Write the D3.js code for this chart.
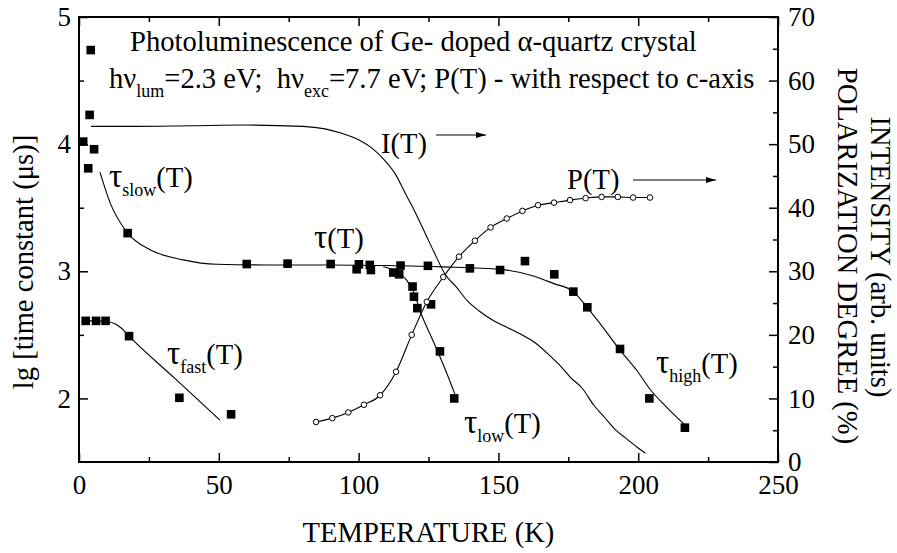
<!DOCTYPE html>
<html>
<head>
<meta charset="utf-8">
<script src="https://cdn.jsdelivr.net/npm/d3@7"></script>
<style>
  body { margin: 0; background: #fff; }
  svg { display: block; }
  text { white-space: pre; font-family: "Liberation Serif", "Times New Roman", Times, serif; }
</style>
</head>
<body>
<svg id="chart" width="897" height="553"></svg>
<script>
// axis ticks
const tempTicks = [0, 50, 100, 150, 200, 250];
const tempMinor = [25, 75, 125, 175, 225];
const lgTicks = [2, 3, 4, 5];
const lgMinor = [2.5, 3.5, 4.5];
const rightTicks = [0, 10, 20, 30, 40, 50, 60, 70];
const rightMinor = [5, 15, 25, 35, 45, 55, 65];

// measured lifetimes (filled squares), lg of microseconds
const squareT  = [1.5, 3.3, 4.2, 3.8, 5.4, 17.4,
                  2.4, 6.1, 9.5, 17.9, 35.9, 54.4,
                  60, 74.6, 90, 100.1, 99.3, 104, 104.4, 112.4, 114.5, 115, 124.8,
                  119.3, 119.8, 121, 125.9, 129.1, 134.2,
                  139.8, 150.6, 159.5, 170, 176.8, 181.8, 193.5, 204, 216.7];
const squareLg = [4.02, 3.81, 4.74, 4.23, 3.96, 3.30,
                  2.61, 2.61, 2.61, 2.49, 2.005, 1.875,
                  3.057, 3.06, 3.057, 3.055, 3.016, 3.05, 3.01, 2.99, 2.976, 3.045, 3.043,
                  2.88, 2.80, 2.71, 2.74, 2.37, 2.00,
                  3.023, 3.01, 3.08, 2.976, 2.84, 2.717, 2.389, 2.00, 1.77];

// fitted curves
const slowFitT  = [7.5, 11.1, 17.4, 25.4, 37.3, 49.2, 67, 90, 110, 130, 150.6, 162.5, 169.6, 176.8, 181.6, 186.3, 193.5, 199.5, 204.3, 210.2, 217.3];
const slowFitLg = [3.78, 3.54, 3.30, 3.17, 3.09, 3.055, 3.05, 3.05, 3.045, 3.035, 3.015, 2.963, 2.905, 2.84, 2.72, 2.59, 2.38, 2.22, 2.07, 1.93, 1.78];
const lowFitT   = [108.8, 113.6, 117.2, 119.6, 122.3, 126.7, 131.5, 134.5];
const lowFitLg  = [3.035, 2.997, 2.93, 2.84, 2.67, 2.45, 2.20, 2.03];
const fastFitT  = [2.4, 6, 10, 13, 15.3, 17.9, 34, 50.4];
const fastFitLg = [2.61, 2.61, 2.605, 2.585, 2.55, 2.49, 2.163, 1.83];

// intensity I(T), arb. units (right axis)
const intensityT = [4.3, 20, 40, 60, 80, 88, 94, 100, 105, 109, 113, 117, 120, 124, 127, 131, 135, 139, 143, 148, 153, 158, 163, 168, 172, 176, 180, 184, 188, 192, 196, 200, 202.5];
const intensityV = [52.8, 52.8, 52.9, 53.0, 52.8, 52.4, 51.7, 50.7, 49.3, 47.6, 45.4, 42.0, 39.5, 35.8, 33.0, 29.5, 27.5, 25.3, 23.8, 22.3, 21.2, 20.1, 18.8, 16.9, 15.2, 13.2, 11.6, 9.0, 7.0, 5.0, 3.6, 2.2, 1.4];

// polarization degree P(T), % (open circles, right axis)
const polT = [84.8, 90.6, 96.3, 101.9, 107.7, 113.4, 119, 124.4, 130.3, 135.9, 141.6, 147.2, 153, 158.6, 164.2, 169.9, 175.6, 181.2, 186.9, 192.7, 198.2, 204.2];
const polV = [6.3, 6.9, 7.8, 9.0, 10.5, 14.2, 20.0, 25.2, 29.1, 32.3, 34.8, 36.9, 38.3, 39.5, 40.4, 40.8, 41.2, 41.5, 41.7, 41.7, 41.6, 41.6];

const zip = (a, b) => a.map((v, i) => [v, b[i]]);

const svg = d3.select("#chart");
const margin = {top: 17, right: 119, bottom: 91, left: 79};
const width = +svg.attr("width") - margin.left - margin.right;
const height = +svg.attr("height") - margin.top - margin.bottom;
const fs = 27;      // tick labels
const fsT = 28.6;   // annotations and titles
const serif = "Liberation Serif, Times New Roman, serif";

const x = d3.scaleLinear().domain([0, 250]).range([0, width]);
const yL = d3.scaleLinear().domain([1.5, 5]).range([height, 0]);
const yR = d3.scaleLinear().domain([0, 70]).range([height, 0]);

const g = svg.append("g").attr("transform", `translate(${margin.left},${margin.top})`);

function styleAxis(sel) {
  sel.select(".domain").remove();
  sel.attr("font-size", fs).attr("font-family", serif);
  sel.selectAll("line").attr("stroke-width", 1.5);
  sel.selectAll("text").attr("fill", "#000").attr("font-family", serif);
}

// bottom + top
g.append("g").attr("transform", `translate(0,${height})`)
  .call(d3.axisBottom(x).tickValues(tempTicks).tickSize(-9).tickPadding(13).tickFormat(d3.format("d")))
  .call(styleAxis);
g.append("g").attr("transform", `translate(0,${height})`)
  .call(d3.axisBottom(x).tickValues(tempMinor).tickSize(-5).tickFormat(""))
  .call(styleAxis);
g.append("g")
  .call(d3.axisTop(x).tickValues(tempTicks).tickSize(-9).tickFormat(""))
  .call(styleAxis);
g.append("g")
  .call(d3.axisTop(x).tickValues(tempMinor).tickSize(-5).tickFormat(""))
  .call(styleAxis);

// left
g.append("g")
  .call(d3.axisLeft(yL).tickValues(lgTicks).tickSize(-9).tickPadding(8).tickFormat(d3.format("d")))
  .call(styleAxis);
g.append("g")
  .call(d3.axisLeft(yL).tickValues(lgMinor).tickSize(-5).tickFormat(""))
  .call(styleAxis);

// right
g.append("g").attr("transform", `translate(${width},0)`)
  .call(d3.axisRight(yR).tickValues(rightTicks).tickSize(-9).tickPadding(10).tickFormat(d3.format("d")))
  .call(styleAxis);
g.append("g").attr("transform", `translate(${width},0)`)
  .call(d3.axisRight(yR).tickValues(rightMinor).tickSize(-5).tickFormat(""))
  .call(styleAxis);

g.append("rect")
  .attr("width", width).attr("height", height)
  .attr("fill", "none").attr("stroke", "#000").attr("stroke-width", 2);

// curves
const lineL = d3.line().x(d => x(d[0])).y(d => yL(d[1])).curve(d3.curveMonotoneX);
const lineR = d3.line().x(d => x(d[0])).y(d => yR(d[1])).curve(d3.curveMonotoneX);

[zip(slowFitT, slowFitLg), zip(lowFitT, lowFitLg), zip(fastFitT, fastFitLg)].forEach(pts => {
  g.append("path").attr("d", lineL(pts)).attr("fill", "none").attr("stroke", "#000").attr("stroke-width", 1.1);
});
g.append("path").attr("d", lineR(zip(intensityT, intensityV)))
  .attr("fill", "none").attr("stroke", "#000").attr("stroke-width", 1.1);
g.append("path").attr("d", lineR(zip(polT, polV)))
  .attr("fill", "none").attr("stroke", "#000").attr("stroke-width", 1.1);

// markers
const sq = 8.6;
g.selectAll(".sq").data(zip(squareT, squareLg)).enter().append("rect")
  .attr("class", "sq")
  .attr("x", d => x(d[0]) - sq / 2).attr("y", d => yL(d[1]) - sq / 2)
  .attr("width", sq).attr("height", sq).attr("fill", "#000");
g.selectAll(".pc").data(zip(polT, polV)).enter().append("circle")
  .attr("class", "pc")
  .attr("cx", d => x(d[0])).attr("cy", d => yR(d[1])).attr("r", 2.8)
  .attr("fill", "#fff").attr("stroke", "#000").attr("stroke-width", 1);

// text with subscripts: strings are normal, {sub: ".."} lowered, {big: ".."} enlarged glyph
function label(xp, yp, parts) {
  const t = svg.append("text").attr("x", xp).attr("y", yp)
    .attr("font-size", fsT).attr("font-family", serif);
  let shifted = false;
  parts.forEach(p => {
    if (typeof p === "string") {
      t.append("tspan").attr("dy", shifted ? -9 : 0).text(p);
      shifted = false;
    } else if (p.big) {
      t.append("tspan").attr("font-size", 33).text(p.big);
    } else {
      t.append("tspan").attr("font-size", 18).attr("dy", 9).text(p.sub);
      shifted = true;
    }
  });
  return t;
}

label(130, 51, ["Photoluminescence of Ge- doped \u03b1-quartz crystal"]);
label(109, 88, ["h\u03bd", {sub: "lum"}, "=2.3 eV;  h\u03bd", {sub: "exc"}, "=7.7 eV; P(T) - with respect to c-axis"]);

label(109, 187, [{big: "\u03c4"}, {sub: "slow"}, "(T)"]);
label(314, 248, [{big: "\u03c4"}, "(T)"]);
label(167, 364, [{big: "\u03c4"}, {sub: "fast"}, "(T)"]);
label(464, 433, [{big: "\u03c4"}, {sub: "low"}, "(T)"]);
label(656, 373, [{big: "\u03c4"}, {sub: "high"}, "(T)"]);
label(381, 153, ["I(T)"]);
label(567, 189, ["P(T)"]);

// arrows
const defs = svg.append("defs");
defs.append("marker").attr("id", "arr").attr("viewBox", "0 0 10 6")
  .attr("refX", 10).attr("refY", 3).attr("markerWidth", 12).attr("markerHeight", 6)
  .attr("markerUnits", "userSpaceOnUse").attr("orient", "auto")
  .append("path").attr("d", "M0,0L10,3L0,6Z").attr("fill", "#000");
svg.append("line").attr("x1", 436).attr("x2", 486).attr("y1", 135).attr("y2", 135)
  .attr("stroke", "#000").attr("stroke-width", 1.1).attr("marker-end", "url(#arr)");
svg.append("line").attr("x1", 633).attr("x2", 716).attr("y1", 180).attr("y2", 180)
  .attr("stroke", "#000").attr("stroke-width", 1.1).attr("marker-end", "url(#arr)");

// axis titles
svg.append("text").attr("x", margin.left + width / 2).attr("y", 542)
  .attr("text-anchor", "middle").attr("font-size", fsT).attr("font-family", serif).text("TEMPERATURE (K)");
svg.append("text").attr("transform", "translate(33,262) rotate(-90)")
  .attr("text-anchor", "middle").attr("font-size", fsT).attr("font-family", serif).text("lg [time constant (\u03bcs)]");
svg.append("text").attr("transform", "translate(871,257) rotate(90)")
  .attr("text-anchor", "middle").attr("font-size", fsT).attr("font-family", serif).text("INTENSITY (arb. units)");
svg.append("text").attr("transform", "translate(838,256) rotate(90)")
  .attr("text-anchor", "middle").attr("font-size", fsT).attr("font-family", serif).text("POLARIZATION DEGREE (%)");
</script>
</body>
</html>
